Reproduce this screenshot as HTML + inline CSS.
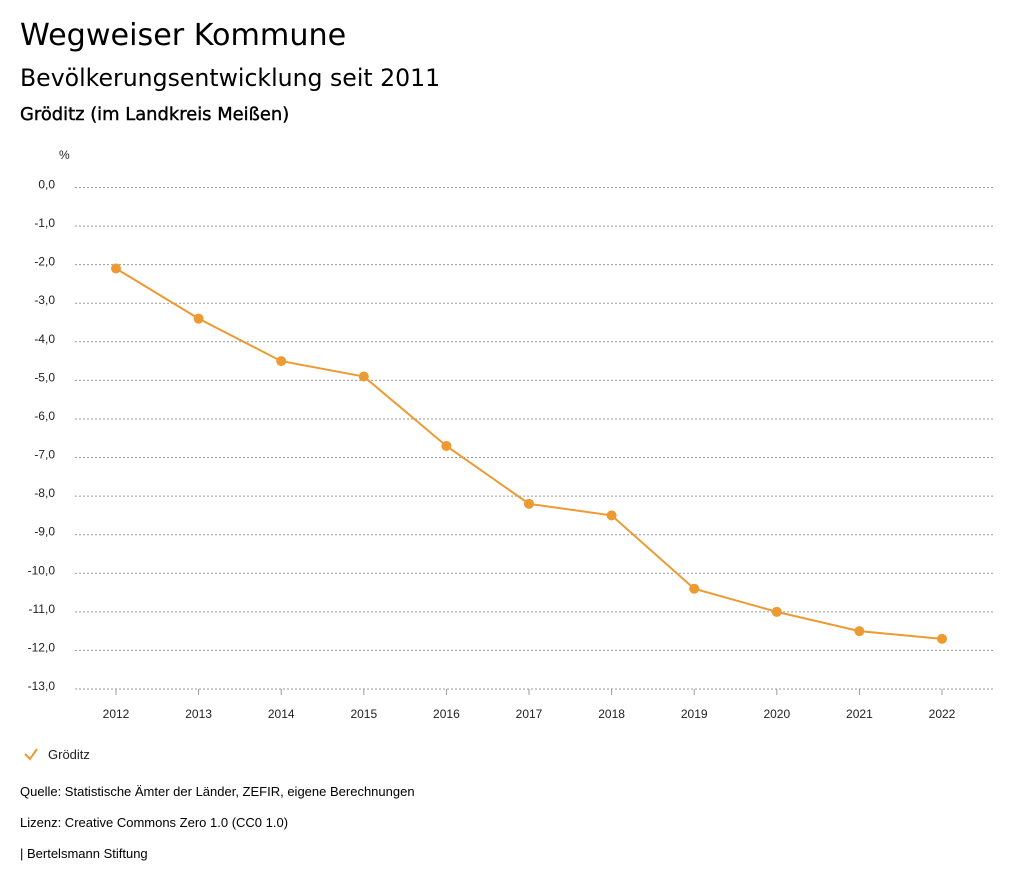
<!DOCTYPE html>
<html><head><meta charset="utf-8">
<style>
body{margin:0;background:#fff;font-family:"Liberation Sans","DejaVu Sans",sans-serif;color:#000;}
#wrap{position:relative;width:1024px;height:888px;overflow:hidden;}
.t{position:absolute;left:20px;white-space:nowrap;}
.h{font-family:"DejaVu Sans",sans-serif;}
</style></head><body>
<div id="wrap">
<div class="t h" style="top:18px;font-size:30.2px;">Wegweiser Kommune</div>
<div class="t h" style="top:64px;font-size:23.6px;">Bevölkerungsentwicklung seit 2011</div>
<div class="t h" style="top:104px;font-size:17.9px;font-weight:normal;-webkit-text-stroke:0.4px #000;">Gröditz (im Landkreis Meißen)</div>
<svg id="chart" width="1024" height="888" style="position:absolute;left:0;top:0"></svg>
<div class="t" style="top:784px;font-size:13px;">Quelle: Statistische Ämter der Länder, ZEFIR, eigene Berechnungen</div>
<div class="t" style="top:815px;font-size:13px;">Lizenz: Creative Commons Zero 1.0 (CC0 1.0)</div>
<div class="t" style="top:846px;font-size:13px;">| Bertelsmann Stiftung</div>
</div>
<script>
const categories=["2012","2013","2014","2015","2016","2017","2018","2019","2020","2021","2022"];
const values=[-2.1,-3.4,-4.5,-4.9,-6.7,-8.2,-8.5,-10.4,-11.0,-11.5,-11.7];
const yTicks=[0,-1,-2,-3,-4,-5,-6,-7,-8,-9,-10,-11,-12,-13];
const seriesName="Gröditz";
const NS="http://www.w3.org/2000/svg";
const svg=document.getElementById('chart');
const color="#ee9a33";
const x=i=>116+i*(942-116)/(categories.length-1);
const y=v=>187.5+(0-v)*(689-187.5)/13;
function mk(tag,attrs,parent){const e=document.createElementNS(NS,tag);for(const k in attrs)e.setAttribute(k,attrs[k]);(parent||svg).appendChild(e);return e;}
let u=mk('text',{x:59,y:159,'font-size':12,fill:'#222'});u.textContent='%';


yTicks.forEach(t=>{
  const g=mk('line',{x1:75,x2:993,y1:y(t),y2:y(t),stroke:'#999','stroke-width':1,'stroke-dasharray':'2,2'});
  
  
  const l=mk('text',{x:55,y:y(t)+1,'font-size':12,'text-anchor':'end',fill:'#222'});
  l.textContent=t.toFixed(1).replace('.',',');
  
  
});
categories.forEach((c,i)=>{
  const tk=mk('line',{x1:x(i),x2:x(i),y1:689,y2:695,stroke:'#999','stroke-width':1});
  
  
  const l=mk('text',{x:x(i),y:718,'font-size':12,'text-anchor':'middle',fill:'#222'});
  l.textContent=c;
  
  
});
const line=mk('polyline',{points:values.map((v,i)=>x(i)+','+y(v)).join(' '),fill:'none',stroke:color,'stroke-width':2});


values.forEach((v,i)=>{
  const p=mk('circle',{cx:x(i),cy:y(v),r:5,fill:color});
  
  
});
const lg=mk('g',{});


mk('polyline',{points:'25,754 30,759 37,749',fill:'none',stroke:color,'stroke-width':2},lg);
const lt=mk('text',{x:48,y:759,'font-size':13,fill:'#222'},lg);lt.textContent=seriesName;
</script>
</body></html>
